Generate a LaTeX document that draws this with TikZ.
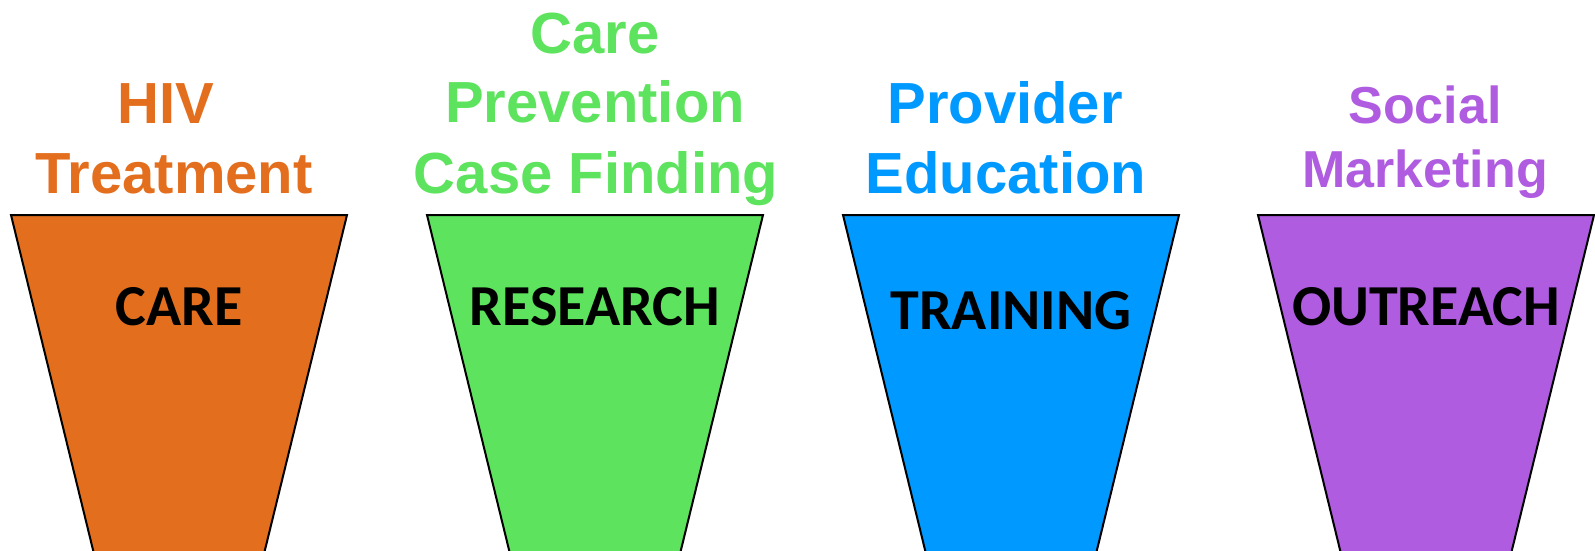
\documentclass[tikz,border=0pt]{standalone}
\usepackage{fontspec}
\setmainfont{Liberation Sans}
\newfontfamily\boxfont{Carlito}
\definecolor{careorange}{RGB}{227,111,30}
\definecolor{researchgreen}{RGB}{93,227,93}
\definecolor{trainingblue}{RGB}{0,153,255}
\definecolor{outreachpurple}{RGB}{176,92,224}
\tikzset{
  funnel/.style={draw=black, line width=2pt, line join=miter},
  headline/.style={font=\fontsize{58}{69}\selectfont\bfseries, inner sep=0pt, anchor=base},
  smallheadline/.style={font=\fontsize{52}{62}\selectfont\bfseries, inner sep=0pt, anchor=base},
  boxlabel/.style={font=\boxfont\fontsize{58}{69}\selectfont\bfseries, inner sep=0pt, anchor=base, text=black}
}
\begin{document}
\begin{tikzpicture}[x=1pt,y=-1pt]
  \useasboundingbox (0,0) rectangle (1595,550);
  \begin{scope}
    \clip (0,0) rectangle (1595,550);
    % four funnels, top edge at y=215, narrowing downwards
    \foreach \cx/\col/\nm in {179/careorange/fcare, 595/researchgreen/fresearch, 1011/trainingblue/ftraining, 1426/outreachpurple/foutreach}{
      \draw[funnel, fill=\col] (\cx-168,215) -- (\cx+168,215) -- (\cx+83.5,560) -- (\cx-83.5,560) -- cycle;
    }
  \end{scope}

  % labels inside the funnels
  \node[boxlabel] (care) at (179,325) {CARE};
  \node[boxlabel] (research) at (595,325) {RESEARCH};
  \node[boxlabel] (training) at (1011,329) {TRAINING};
  \node[boxlabel] (outreach) at (1426,325) {OUTREACH};

  % headings above the funnels
  \node[headline, text=careorange] (hiv1) at (166,123) {HIV};
  \node[headline, text=careorange] (hiv2) at (174,193) {Treatment};

  \node[headline, text=researchgreen] (prev1) at (595,53) {Care};
  \node[headline, text=researchgreen] (prev2) at (595,122) {Prevention};
  \node[headline, text=researchgreen] (prev3) at (596,193) {Case Finding};

  \node[headline, text=trainingblue] (prov1) at (1005,123) {Provider};
  \node[headline, text=trainingblue] (prov2) at (1006,193) {Education};

  \node[smallheadline, text=outreachpurple] (soc1) at (1425,123) {Social};
  \node[smallheadline, text=outreachpurple] (soc2) at (1425,187) {Marketing};
\end{tikzpicture}
\end{document}
